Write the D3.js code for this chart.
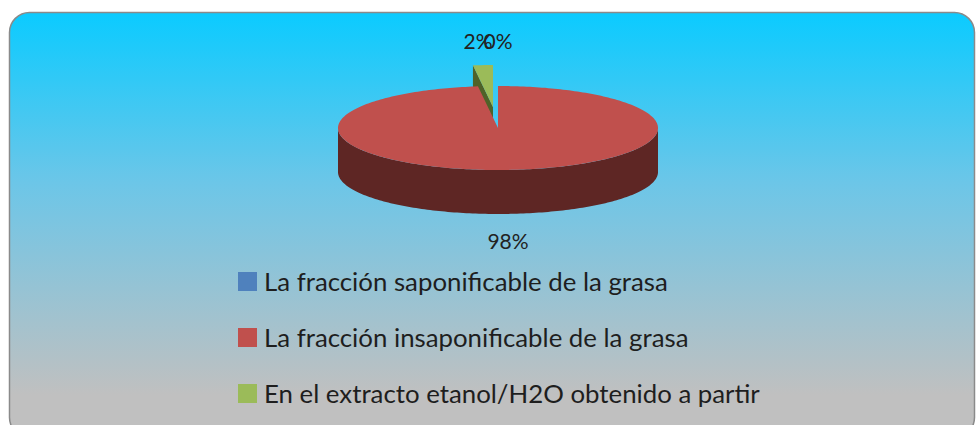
<!DOCTYPE html>
<html>
<head>
<meta charset="utf-8">
<script src="https://cdn.jsdelivr.net/npm/d3@7"></script>
<style>
  html, body { margin: 0; padding: 0; background: #ffffff; }
  svg { display: block; }
</style>
</head>
<body>
<svg id="chart" width="976" height="425"></svg>
<script>
// ---- data ----
const categories = [
  "La fracción saponificable de la grasa",
  "La fracción insaponificable de la grasa",
  "En el extracto etanol/H2O obtenido a partir"
];
const values = [0, 98, 2];
const labels = ["0%", "98%", "2%"];
const exploded = [0, 0, 0.5];

// ---- styles ----
const topColors = ["#4f81bd", "#c0504d", "#9bbb59"];
const sideColors = ["#2c4d75", "#5e2624", "#4f6228"];
const font = "Lato, 'Open Sans', sans-serif";

const svg = d3.select("#chart");

// background panel
const defs = svg.append("defs");
const grad = defs.append("linearGradient").attr("id", "bg")
  .attr("x1", 0).attr("y1", 0).attr("x2", 0).attr("y2", 1);
grad.append("stop").attr("offset", "0%").attr("stop-color", "#0bcbff");
grad.append("stop").attr("offset", "40%").attr("stop-color", "#6cc6e8");
grad.append("stop").attr("offset", "90%").attr("stop-color", "#c0c0c0");
grad.append("stop").attr("offset", "100%").attr("stop-color", "#c0c0c0");

svg.append("rect")
  .attr("x", 9.5).attr("y", 12.5)
  .attr("width", 965).attr("height", 425)
  .attr("rx", 20).attr("ry", 20)
  .attr("fill", "url(#bg)")
  .attr("stroke", "#8a8a8a").attr("stroke-width", 1.5);

// ---- 3D pie geometry ----
const cx = 498, cy = 128, rx = 160, ry = 42, depth = 44;
const pie = d3.pie().sort(null).value(d => d).startAngle(0).endAngle(2 * Math.PI);
const arcs = pie(values).map((a, i) => Object.assign(a, { i }));

const P = (a, r, off, dz) => [
  cx + off[0] + rx * r * Math.sin(a),
  cy + off[1] - ry * r * Math.cos(a) + (dz || 0)
];

function arcPts(a0, a1, off, dz) {
  const n = Math.max(2, Math.ceil(Math.abs(a1 - a0) / 0.02));
  const pts = [];
  for (let k = 0; k <= n; k++) pts.push(P(a0 + (a1 - a0) * k / n, 1, off, dz));
  return pts;
}

const line = d3.line();
const g = svg.append("g");

// painter order: back slices first
const order = arcs.filter(a => a.endAngle - a.startAngle > 1e-6)
  .sort((a, b) => Math.cos((b.startAngle + b.endAngle) / 2) - Math.cos((a.startAngle + a.endAngle) / 2));

order.forEach(a => {
  const i = a.i;
  const mid = (a.startAngle + a.endAngle) / 2;
  const e = exploded[i];
  const off = [e * rx * Math.sin(mid), -e * ry * Math.cos(mid)];
  const s = a.startAngle, t = a.endAngle;

  const w0 = Math.max(s, Math.PI / 2), w1 = Math.min(t, 3 * Math.PI / 2);
  if (w1 > w0) {
    const topArc = arcPts(w0, w1, off, 0);
    const botArc = arcPts(w1, w0, off, depth);
    g.append("path").attr("d", line(topArc.concat(botArc)) + "Z")
      .attr("fill", sideColors[i]);
  }
  const c = P(0, 0, off, 0), cb = P(0, 0, off, depth);
  if (Math.sin(s) < 0) {
    const r0 = P(s, 1, off, 0), r0b = P(s, 1, off, depth);
    g.append("path").attr("d", line([c, r0, r0b, cb]) + "Z").attr("fill", sideColors[i]);
  }
  if (Math.sin(t) > 0) {
    const r1 = P(t, 1, off, 0), r1b = P(t, 1, off, depth);
    g.append("path").attr("d", line([c, r1, r1b, cb]) + "Z").attr("fill", sideColors[i]);
  }
  const top = [c].concat(arcPts(s, t, off, 0));
  g.append("path").attr("d", line(top) + "Z").attr("fill", topColors[i]);
});

// ---- data labels ----
const labelFont = 21;
const lab = arcs.map(a => {
  const i = a.i;
  const mid = (a.startAngle + a.endAngle) / 2;
  const dx = exploded[i] * rx * Math.sin(mid);
  const cm = Math.cos(mid);
  return {
    i,
    x: cx + dx + rx * Math.sin(mid),
    y: cy - cm * (ry + 46) + (cm < 0 ? 25 : 0)
  };
});
// simple collision nudge (labels sharing a row pushed apart)
lab.forEach(l1 => lab.forEach(l2 => {
  if (l1 !== l2 && Math.abs(l1.y - l2.y) < 10 && l1.x <= l2.x && l2.x - l1.x < 20) {
    l1.x = l2.x - 20;
  }
}));
lab.forEach(l => {
  svg.append("text")
    .attr("x", l.x).attr("y", l.y)
    .attr("text-anchor", "middle")
    .attr("dominant-baseline", "central")
    .attr("font-family", font).attr("font-size", labelFont)
    .attr("fill", "#222")
    .text(labels[l.i]);
});

// ---- legend ----
const legend = svg.append("g").attr("transform", "translate(238,272)");
const rowH = 56;
categories.forEach((c, i) => {
  const row = legend.append("g").attr("transform", `translate(0,${i * rowH})`);
  row.append("rect").attr("width", 19).attr("height", 19)
    .attr("fill", topColors[i]);
  row.append("text").attr("x", 26).attr("y", 19)
    .attr("font-family", font).attr("font-size", 25.8)
    .attr("fill", "#1e1e1e")
    .text(c);
});
</script>
</body>
</html>
